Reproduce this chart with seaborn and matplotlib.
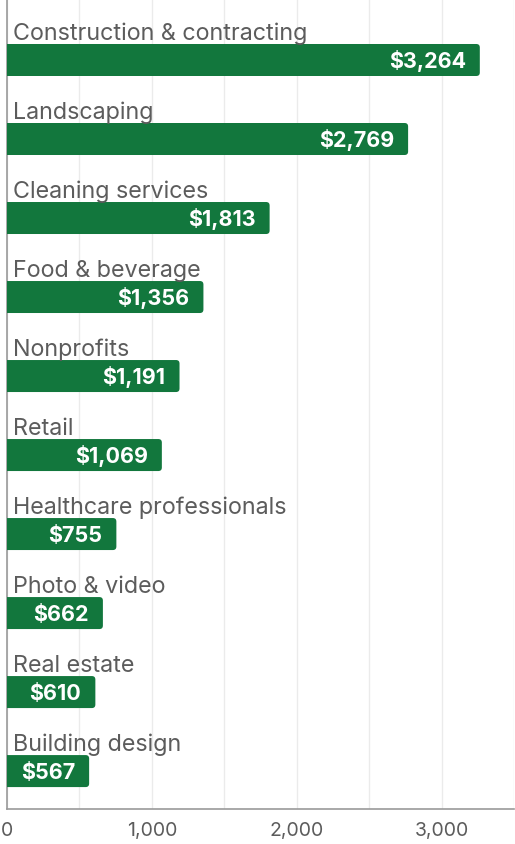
import matplotlib
matplotlib.use("Agg")
import matplotlib.pyplot as plt
from matplotlib.patches import FancyBboxPatch
from matplotlib.ticker import MultipleLocator, FuncFormatter
import seaborn as sns
import pandas as pd

categories = ["Construction & contracting", "Landscaping", "Cleaning services",
              "Food & beverage", "Nonprofits", "Retail", "Healthcare professionals",
              "Photo & video", "Real estate", "Building design"]
values = [3264, 2769, 1813, 1356, 1191, 1069, 755, 662, 610, 567]
tick_values = [0, 1000, 2000, 3000]

GREEN = "#12773d"
GREY = "#5c5c5c"

sns.set_theme(style="white")
plt.rcParams['font.family'] = ['Inter', 'DejaVu Sans']

df = pd.DataFrame({"category": categories, "value": values})

W, H, DPI = 515, 845, 100
fig = plt.figure(figsize=(W / DPI, H / DPI), dpi=DPI)
ax = fig.add_axes([7 / W, 35 / H, 507 / W, 810 / H])

sns.barplot(data=df, y="category", x="value", orient="h", color=GREEN,
            width=0.405, saturation=1, ax=ax, zorder=3)

ax.set_xlim(0, 3500)
ax.set_ylim(9.48, -0.772)

# rounded right corners
xpp = 3500 / 507.0
ypp = (9.48 + 0.772) / 810.0
r_px = 3.5
for p in list(ax.patches):
    x0, y0, w, h = p.get_x(), p.get_y(), p.get_width(), p.get_height()
    p.remove()
    rx = r_px * xpp
    fb = FancyBboxPatch((x0 - 2 * rx, y0), w + 2 * rx, h,
                        boxstyle=f"round,pad=0,rounding_size={rx}",
                        mutation_aspect=ypp / xpp,
                        facecolor=GREEN, edgecolor="none", zorder=3)
    ax.add_patch(fb)

for i, (cat, v) in enumerate(zip(categories, values)):
    ax.annotate(cat, xy=(0, i), xytext=(6, 21), textcoords="offset pixels",
                ha="left", va="baseline", fontsize=16.8, color=GREY, zorder=4)
    ax.annotate(f"${v:,}", xy=(v, i), xytext=(-14, -7), textcoords="offset pixels",
                ha="right", va="baseline", fontsize=15.5, fontweight="bold",
                color="white", zorder=4)

ax.set_xticks(tick_values)
ax.xaxis.set_minor_locator(MultipleLocator(500))
ax.xaxis.set_major_formatter(FuncFormatter(lambda x, _: f"{int(x):,}"))
ax.grid(axis="x", which="both", color="#ebebeb", linewidth=1, zorder=0)
ax.set_axisbelow(True)
ax.set_yticks([])
ax.set_xlabel("")
ax.set_ylabel("")
ax.tick_params(axis="x", which="both", length=0, pad=9, labelsize=14, labelcolor=GREY)
for s in ["top", "right"]:
    ax.spines[s].set_visible(False)
for s in ["left", "bottom"]:
    ax.spines[s].set_color("#9a9a9a")
    ax.spines[s].set_linewidth(1.2)

fig.savefig("out.png", dpi=DPI)
